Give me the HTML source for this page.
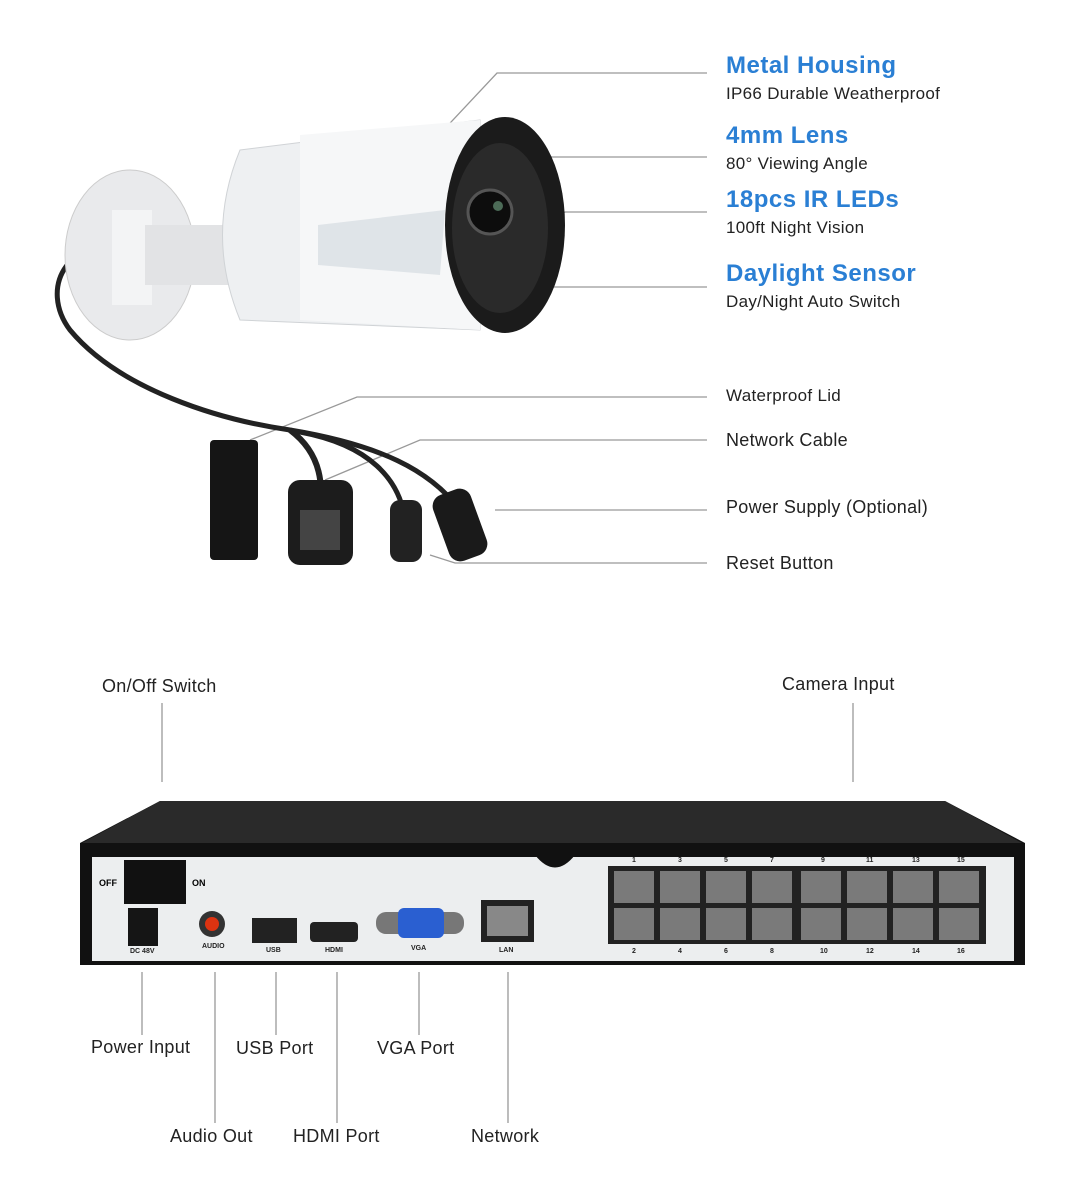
<!DOCTYPE html><html><head><style>
body{margin:0;width:1078px;height:1200px;background:#fff;position:relative;overflow:hidden;font-family:"Liberation Sans","DejaVu Sans",sans-serif}
.t{position:absolute;color:#222;font-size:18px;white-space:nowrap;letter-spacing:0.3px}
.h{position:absolute;color:#2a7fd4;font-size:24px;font-weight:bold;white-space:nowrap;letter-spacing:0.5px}
.s{position:absolute;color:#222;font-size:17px;white-space:nowrap;letter-spacing:0.3px}
</style></head><body>
<svg width="1078" height="1200" style="position:absolute;left:0;top:0">
<g stroke="#999" stroke-width="1.3" fill="none">
<polyline points="422,153 497,73 707,73"/>
<polyline points="490,220 548,157 707,157"/>
<polyline points="520,250 565,212 707,212"/>
<polyline points="500,287 707,287"/>
<polyline points="250,440 357,397 707,397"/>
<polyline points="325,480 420,440 707,440"/>
<line x1="495" y1="510" x2="707" y2="510"/>
<polyline points="430,555 455,563 707,563"/>
<line x1="162" y1="703" x2="162" y2="782"/>
<line x1="853" y1="703" x2="853" y2="782"/>
<line x1="142" y1="972" x2="142" y2="1035"/>
<line x1="215" y1="972" x2="215" y2="1123"/>
<line x1="276" y1="972" x2="276" y2="1035"/>
<line x1="337" y1="972" x2="337" y2="1123"/>
<line x1="419" y1="972" x2="419" y2="1035"/>
<line x1="508" y1="972" x2="508" y2="1123"/>
</g>
<path d="M160,240 C60,230 40,290 70,330 C120,390 220,420 290,430 C380,445 430,470 460,510" stroke="#222" stroke-width="5" fill="none"/>
<path d="M290,430 C330,460 320,500 320,520" stroke="#222" stroke-width="6" fill="none"/>
<path d="M300,432 C370,445 400,480 405,520" stroke="#222" stroke-width="5" fill="none"/>
<ellipse cx="130" cy="255" rx="65" ry="85" fill="#e9eaec" stroke="#ccc"/>
<rect x="112" y="210" width="40" height="95" fill="#f3f4f5"/>
<rect x="145" y="225" width="90" height="60" fill="#e2e3e5"/>
<path d="M240,150 L480,120 L480,330 L240,320 Q205,235 240,150Z" fill="#eef0f2" stroke="#d0d3d6"/>
<path d="M300,135 L480,120 L480,330 L300,320Z" fill="#f6f7f8"/>
<path d="M318,225 L445,210 L440,275 L318,265Z" fill="#dfe4e8"/>
<ellipse cx="505" cy="225" rx="60" ry="108" fill="#1b1b1b"/>
<ellipse cx="500" cy="228" rx="48" ry="85" fill="#2a2a2a"/>
<circle cx="490" cy="212" r="22" fill="#0d0d0d" stroke="#555" stroke-width="3"/>
<circle cx="498" cy="206" r="5" fill="#7a8" opacity="0.6"/>
<rect x="210" y="440" width="48" height="120" rx="4" fill="#151515"/>
<rect x="288" y="480" width="65" height="85" rx="12" fill="#1c1c1c"/>
<rect x="300" y="510" width="40" height="40" fill="#444"/>
<rect x="390" y="500" width="32" height="62" rx="10" fill="#222"/>
<rect x="440" y="490" width="40" height="70" rx="12" fill="#1a1a1a" transform="rotate(-20 460 525)"/>
<path d="M160,801 L945,801 L1025,843 L1025,965 L80,965 L80,843Z" fill="#111"/>
<path d="M160,801 L945,801 L1022,843 L82,843Z" fill="#2a2a2a"/>
<rect x="92" y="857" width="922" height="104" fill="#eceeef"/>
<path d="M535,855 Q555,880 575,855Z" fill="#111"/>
<rect x="124" y="860" width="62" height="44" fill="#111"/>
<text x="99" y="886" font-size="9" font-weight="bold">OFF</text><text x="192" y="886" font-size="9" font-weight="bold">ON</text>
<rect x="128" y="908" width="30" height="38" fill="#151515"/>
<circle cx="212" cy="924" r="13" fill="#333"/><circle cx="212" cy="924" r="7" fill="#d31"/>
<rect x="252" y="918" width="45" height="25" fill="#222"/>
<rect x="310" y="922" width="48" height="20" rx="4" fill="#222"/>
<rect x="376" y="912" width="88" height="22" rx="10" fill="#777"/>
<rect x="398" y="908" width="46" height="30" rx="6" fill="#2a5fd1"/>
<rect x="481" y="900" width="53" height="42" fill="#222"/><rect x="487" y="906" width="41" height="30" fill="#888"/>
<g font-size="7" font-weight="bold" fill="#222"><text x="130" y="953">DC 48V</text><text x="202" y="948">AUDIO</text><text x="266" y="952">USB</text><text x="325" y="952">HDMI</text><text x="411" y="950">VGA</text><text x="499" y="952">LAN</text></g>
<g font-size="7" font-weight="bold" fill="#222"><text x="632" y="862">1</text><text x="678" y="862">3</text><text x="724" y="862">5</text><text x="770" y="862">7</text><text x="821" y="862">9</text><text x="866" y="862">11</text><text x="912" y="862">13</text><text x="957" y="862">15</text>
<text x="632" y="953">2</text><text x="678" y="953">4</text><text x="724" y="953">6</text><text x="770" y="953">8</text><text x="820" y="953">10</text><text x="866" y="953">12</text><text x="912" y="953">14</text><text x="957" y="953">16</text></g>
<rect x="608" y="866" width="378" height="78" fill="#222"/>
<g fill="#7a7a7a">
<rect x="614" y="871" width="40" height="32"/><rect x="660" y="871" width="40" height="32"/><rect x="706" y="871" width="40" height="32"/><rect x="752" y="871" width="40" height="32"/><rect x="801" y="871" width="40" height="32"/><rect x="847" y="871" width="40" height="32"/><rect x="893" y="871" width="40" height="32"/><rect x="939" y="871" width="40" height="32"/>
<rect x="614" y="908" width="40" height="32"/><rect x="660" y="908" width="40" height="32"/><rect x="706" y="908" width="40" height="32"/><rect x="752" y="908" width="40" height="32"/><rect x="801" y="908" width="40" height="32"/><rect x="847" y="908" width="40" height="32"/><rect x="893" y="908" width="40" height="32"/><rect x="939" y="908" width="40" height="32"/>
</g>
</svg>
<div class="h" style="left:726px;top:52px">Metal Housing</div><div class="s" style="left:726px;top:84px">IP66 Durable Weatherproof</div>
<div class="h" style="left:726px;top:122px">4mm Lens</div><div class="s" style="left:726px;top:154px">80° Viewing Angle</div>
<div class="h" style="left:726px;top:186px">18pcs IR LEDs</div><div class="s" style="left:726px;top:218px">100ft Night Vision</div>
<div class="h" style="left:726px;top:260px">Daylight Sensor</div><div class="s" style="left:726px;top:292px">Day/Night Auto Switch</div>
<div class="s" style="left:726px;top:386px">Waterproof Lid</div>
<div class="t" style="left:726px;top:430px">Network Cable</div>
<div class="t" style="left:726px;top:497px">Power Supply (Optional)</div>
<div class="t" style="left:726px;top:553px">Reset Button</div>
<div class="t" style="left:102px;top:676px">On/Off Switch</div>
<div class="t" style="left:782px;top:674px">Camera Input</div>
<div class="t" style="left:91px;top:1037px">Power Input</div>
<div class="t" style="left:236px;top:1038px">USB Port</div>
<div class="t" style="left:377px;top:1038px">VGA Port</div>
<div class="t" style="left:170px;top:1126px">Audio Out</div>
<div class="t" style="left:293px;top:1126px">HDMI Port</div>
<div class="t" style="left:471px;top:1126px">Network</div>
</body></html>
